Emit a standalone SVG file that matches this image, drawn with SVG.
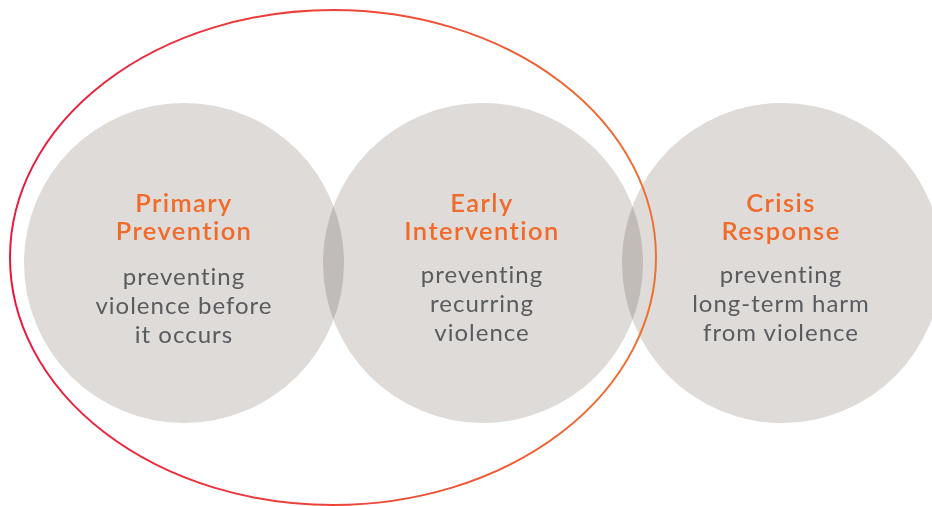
<svg xmlns="http://www.w3.org/2000/svg" width="932" height="506" viewBox="0 0 932 506">
<style>
.c{fill:#dedbd8;mix-blend-mode:multiply}
.t{font-family:"Lato","Noto Sans",sans-serif;font-size:25.5px;font-weight:600;fill:#f26a2a;text-anchor:middle;letter-spacing:1.4px}
.b{font-family:"Lato","Noto Sans",sans-serif;font-size:24px;fill:#5a5b5e;text-anchor:middle;letter-spacing:1px}
</style>
<defs>
<linearGradient id="g" x1="0" y1="0" x2="1" y2="0">
<stop offset="0" stop-color="#e8183f"/>
<stop offset="1" stop-color="#f07030"/>
</linearGradient>
</defs>
<rect width="932" height="506" fill="#fff"/>
<g style="isolation:isolate">
<g id="primary"><circle class="c" cx="184" cy="263" r="160"/></g>
<g id="early"><circle class="c" cx="483" cy="263" r="160"/></g>
<g id="crisis"><circle class="c" cx="782" cy="263" r="160"/></g>
</g>
<g id="connectors">
<ellipse cx="333" cy="257.5" rx="323" ry="247.5" fill="none" stroke="url(#g)" stroke-width="2"/>
</g>
<g id="labels">
<text class="t" x="184" y="212">Primary</text>
<text class="t" x="184" y="240">Prevention</text>
<text class="b" x="184" y="285">preventing</text>
<text class="b" x="184" y="314">violence before</text>
<text class="b" x="184" y="343">it occurs</text>
<text class="t" x="482" y="212">Early</text>
<text class="t" x="482" y="240">Intervention</text>
<text class="b" x="482" y="283">preventing</text>
<text class="b" x="482" y="312">recurring</text>
<text class="b" x="482" y="341">violence</text>
<text class="t" x="781" y="212">Crisis</text>
<text class="t" x="781" y="240">Response</text>
<text class="b" x="781" y="283">preventing</text>
<text class="b" x="781" y="312">long-term harm</text>
<text class="b" x="781" y="341">from violence</text>
</g>
</svg>
